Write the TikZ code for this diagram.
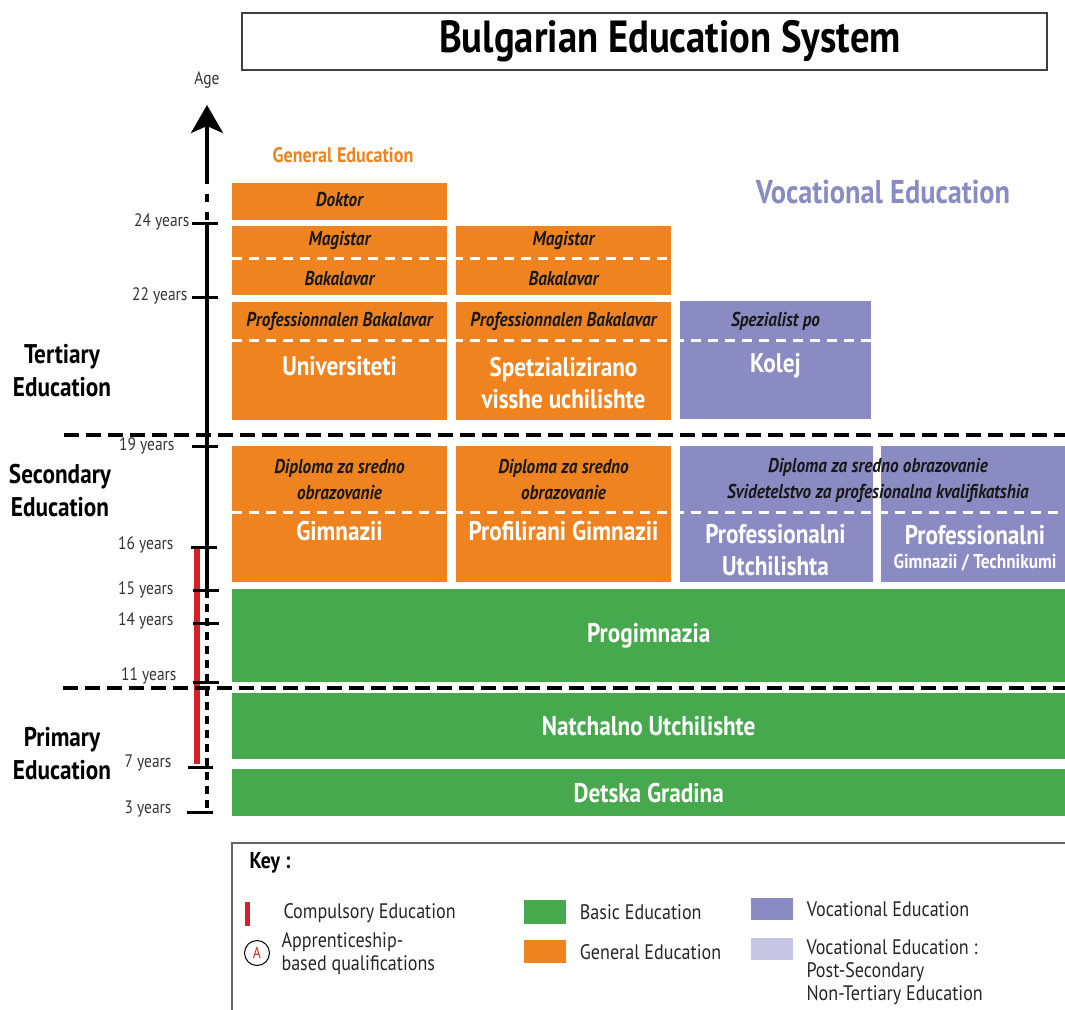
\documentclass[tikz,border=0pt]{standalone}
\usepackage{fontspec}
\setmainfont[FakeStretch=0.86]{PT Sans}
\usetikzlibrary{positioning,arrows.meta}
\definecolor{genorange}{HTML}{EE8320}
\definecolor{basicgreen}{HTML}{47A94E}
\definecolor{vocpurple}{HTML}{8B8BC4}
\definecolor{postpurple}{HTML}{C6C6E4}
\definecolor{compred}{HTML}{D42129}
\tikzset{
    gen-box/.style = {fill=genorange, anchor=north west, inner sep=0pt},
    voc-box/.style = {fill=vocpurple, anchor=north west, inner sep=0pt},
    basic-box/.style = {fill=basicgreen, anchor=north west, inner sep=0pt, text=white, font=\bfseries\fontsize{27}{29}\selectfont},
    degree/.style = {text=black!90, font=\bfseries\itshape\fontsize{20}{26}\selectfont, align=center},
    school/.style = {text=white, font=\bfseries\fontsize{27}{32}\selectfont, align=center},
    year/.style = {text=black!80, anchor=east, font=\fontsize{18}{18}\selectfont},
    level/.style = {font=\bfseries\fontsize{27}{33}\selectfont, align=center},
    age-tick/.style = {line width=3pt},
    level-line/.style = {line width=4pt, dash pattern=on 15pt off 7pt},
    split-line/.style = {white, line width=3pt, dash pattern=on 10pt off 7pt},
    key-text/.style = {anchor=west, text=black!85, font=\fontsize{21}{23}\selectfont, align=left},
}

\begin{document}
\begin{tikzpicture}[x=1pt, y=-1pt]
\useasboundingbox (0,0) rectangle (1065,1009);

% title
\node[draw=black!75, line width=1.5pt, anchor=north west, minimum width=805, minimum height=57] (title-box) at (241,12) {};
\node[font=\bfseries\fontsize{45}{46}\selectfont] (title) at (670,41) {Bulgarian Education System};

% age axis
\node[font=\fontsize{18}{18}\selectfont, text=black!80] (age) at (207,80) {Age};
\draw[line width=4pt, -{Stealth[length=28pt, width=32pt, inset=7pt]}] (207,176) -- (207,105);
\draw[line width=4pt, dash pattern=on 8pt off 10pt] (207,176) -- (207,222);
\draw[line width=4pt] (207,222) -- (207,590);
\draw[line width=4pt, dash pattern=on 8pt off 6pt] (207,590) -- (207,812);
\draw[compred, line width=6pt] (197,547) -- (197,764);

\draw[age-tick] (192,223) -- (218,223);
\draw[age-tick] (192,297) -- (218,297);
\draw[age-tick] (192,446) -- (218,446);
\draw[age-tick] (191,547) -- (217,547);
\draw[age-tick] (193,590) -- (219,590);
\draw[age-tick] (193,623) -- (219,623);
\draw[age-tick] (193,682) -- (219,682);
\draw[age-tick] (188,767) -- (213,767);
\draw[age-tick] (187,812) -- (213,812);

\node[year] (y24) at (193,222) {24 years};
\node[year] (y22) at (191,296) {22 years};
\node[year] (y19) at (178,446) {19 years};
\node[year] (y16) at (177,545) {16 years};
\node[year] (y15) at (177,590) {15 years};
\node[year] (y14) at (177,621) {14 years};
\node[year] (y11) at (180,676) {11 years};
\node[year] (y7) at (175,763) {7 years};
\node[year] (y3) at (175,809) {3 years};

% levels
\draw[level-line] (64,435) -- (1065,435);
\draw[level-line] (63,688) -- (1065,688);
\node[level] (tertiary) at (62,371) {Tertiary\\Education};
\node[level] (secondary) at (60,491) {Secondary\\Education};
\node[level] (primary) at (62,754) {Primary\\Education};

% headings
\node[text=genorange, font=\bfseries\fontsize{21}{22}\selectfont] (gen-head) at (343,155) {General Education};
\node[text=vocpurple, font=\bfseries\fontsize{33}{34}\selectfont] (voc-head) at (883,192) {Vocational Education};

% general education
\node[gen-box, minimum width=215, minimum height=37] (doktor) at (232,183) {};
\node[gen-box, minimum width=215, minimum height=69] (mag-1) at (232,226) {};
\node[gen-box, minimum width=215, minimum height=69] (mag-2) at (456,226) {};
\node[gen-box, minimum width=215, minimum height=118] (univ) at (232,302) {};
\node[gen-box, minimum width=215, minimum height=118] (spets) at (456,302) {};
\node[gen-box, minimum width=215, minimum height=136] (gimn) at (232,446) {};
\node[gen-box, minimum width=215, minimum height=136] (profil) at (456,446) {};

% vocational education
\node[voc-box, minimum width=191, minimum height=118] (kolej) at (680,301) {};
\node[voc-box, minimum width=193, minimum height=136] (prof-utch) at (680,446) {};
\node[voc-box, minimum width=184, minimum height=136] (prof-gimn) at (881,446) {};

% basic education
\node[basic-box, minimum width=833, minimum height=93] (progim) at (232,589) {Progimnazia};
\node[basic-box, minimum width=833, minimum height=66] (natch) at (232,693) {Natchalno Utchilishte};
\node[basic-box, minimum width=833, minimum height=47] (detska) at (232,769) {Detska Gradina};

\draw[split-line] (232,258) -- (671,258);
\draw[split-line] (232,340) -- (871,340);
\draw[split-line] (232,512) -- (1065,512);

\node[degree] (doktor-t) at (339.5,200) {Doktor};
\node[degree] (mag-1-t) at (339.5,241) {Magistar};
\node[degree] (bak-1-t) at (339.5,279) {Bakalavar};
\node[degree] (mag-2-t) at (563.5,241) {Magistar};
\node[degree] (bak-2-t) at (563.5,279) {Bakalavar};
\node[degree] (pbak-1-t) at (339.5,321) {Professionnalen Bakalavar};
\node[degree] (pbak-2-t) at (563.5,321) {Professionnalen Bakalavar};
\node[degree] (spez-t) at (775.5,321) {Spezialist po};
\node[school] (univ-t) at (339.5,366) {Universiteti};
\node[school] (spets-t) at (563.5,383) {Spetzializirano\\visshe uchilishte};
\node[school] (kolej-t) at (775.5,366) {Kolej};
\node[degree] (dipl-1-t) at (339.5,480) {Diploma za sredno\\obrazovanie};
\node[degree] (dipl-2-t) at (563.5,480) {Diploma za sredno\\obrazovanie};
\node[degree] (dipl-3-t) at (878,480) {Diploma za sredno obrazovanie\\Svidetelstvo za profesionalna kvalifikatshia};
\node[school] (gimn-t) at (339.5,531) {Gimnazii};
\node[school] (profil-t) at (563.5,531) {Profilirani Gimnazii};
\node[school] (prof-utch-t) at (775.5,550) {Professionalni\\Utchilishta};
\node[school] (prof-gimn-t) at (975,535) {Professionalni};
\node[text=white, font=\bfseries\fontsize{20}{22}\selectfont] (prof-gimn-s) at (975,563) {Gimnazii / Technikumi};

% key
\draw[black!60, line width=2pt] (232,1012) -- (232,843) -- (1068,843);
\node[anchor=west, font=\bfseries\fontsize{23}{24}\selectfont] (key) at (246,863) {Key :};
\draw[compred, line width=5pt] (247,902) -- (247,926);
\node[key-text] (comp-t) at (280,913) {Compulsory Education};
\node[circle, draw, line width=1pt, minimum size=25, inner sep=0pt, text=compred, font=\fontsize{16}{16}\selectfont] (appr) at (257,953) {A};
\node[key-text, right=8pt of appr, yshift=-1pt] (appr-t) {Apprenticeship-\\based qualifications};
\node[fill=basicgreen, minimum width=42, minimum height=24, anchor=north west] (basic-sw) at (524,900) {};
\node[key-text, right=10pt of basic-sw] (basic-t) {Basic Education};
\node[fill=genorange, minimum width=42, minimum height=23, anchor=north west] (gen-sw) at (524,940) {};
\node[key-text, right=10pt of gen-sw] (gen-t) {General Education};
\node[fill=vocpurple, minimum width=42, minimum height=22, anchor=north west] (voc-sw) at (751,898) {};
\node[key-text, right=10pt of voc-sw] (voc-t) {Vocational Education};
\node[fill=postpurple, minimum width=42, minimum height=22, anchor=north west] (post-sw) at (751,938) {};
\node[key-text, anchor=north west] (post-t) at (803,936) {Vocational Education :\\Post-Secondary\\Non-Tertiary Education};
\end{tikzpicture}
\end{document}
